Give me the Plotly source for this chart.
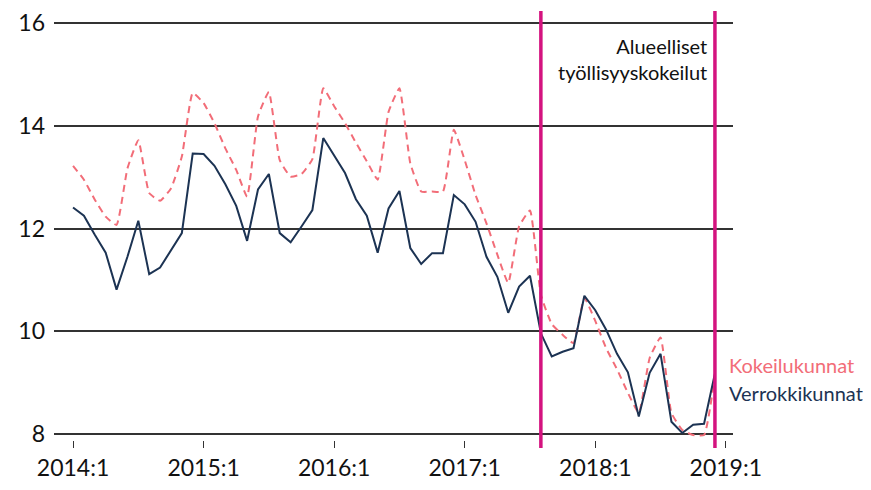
import plotly.graph_objects as go

# Monthly values 2014:1 ... 2018:12 (index 0..59)
months = list(range(60))
kokeilu = [13.22, 12.95, 12.56, 12.23, 12.07, 13.17, 13.72, 12.69, 12.54, 12.78, 13.40, 14.64,
           14.44, 14.05, 13.56, 13.14, 12.62, 14.18, 14.66, 13.33, 13.01, 13.06, 13.35, 14.73,
           14.38, 14.05, 13.67, 13.31, 12.95, 14.27, 14.73, 13.27, 12.72, 12.72, 12.72, 13.92,
           13.33, 12.65, 12.10, 11.49, 10.94, 12.04, 12.35, 10.71, 10.14, 9.93, 9.77, 10.65,
           10.20, 9.67, 9.26, 8.80, 8.41, 9.48, 9.88, 8.41, 8.08, 7.98, 7.98, 9.15]
verrokki = [12.41, 12.25, 11.88, 11.53, 10.81, 11.45, 12.15, 11.11, 11.24, 11.58, 11.91, 13.46,
            13.45, 13.22, 12.86, 12.44, 11.76, 12.76, 13.06, 11.91, 11.73, 12.04, 12.36, 13.76,
            13.42, 13.08, 12.57, 12.25, 11.53, 12.39, 12.73, 11.62, 11.31, 11.52, 11.52, 12.65,
            12.47, 12.13, 11.45, 11.06, 10.36, 10.87, 11.08, 9.96, 9.51, 9.60, 9.67, 10.69,
            10.41, 10.03, 9.56, 9.20, 8.34, 9.19, 9.56, 8.24, 8.02, 8.18, 8.20, 9.18]
tick_vals = [0, 12, 24, 36, 48, 60]
tick_text = ["2014:1", "2015:1", "2016:1", "2017:1", "2018:1", "2019:1"]
y_ticks = [8, 10, 12, 14, 16]
experiment_period = [43, 59]  # 2017:8 and 2018:12

RED = "#f26d78"
NAVY = "#1c3353"
MAGENTA = "#d4137f"
FONT = "Lato"

fig = go.Figure()
fig.add_trace(go.Scatter(x=months, y=kokeilu, mode="lines",
                         line=dict(color=RED, width=2, dash="7px,5px", shape="spline", smoothing=0.4),
                         showlegend=False, hoverinfo="skip"))
fig.add_trace(go.Scatter(x=months, y=verrokki, mode="lines",
                         line=dict(color=NAVY, width=2),
                         showlegend=False, hoverinfo="skip"))

for xv in experiment_period:
    fig.add_shape(type="line", xref="x", yref="paper", x0=xv, x1=xv, y0=0, y1=1,
                  line=dict(color=MAGENTA, width=3.5), layer="above")

fig.add_annotation(xref="x", yref="paper", x=experiment_period[1], y=0.952,
                   xanchor="right", yanchor="top", xshift=-6,
                   text="Alueelliset<br>työllisyyskokeilut", showarrow=False, align="right",
                   font=dict(family=FONT, size=20, color="#111111"))
fig.add_annotation(xref="paper", yref="y", x=1.0, y=kokeilu[-1], xanchor="left", yanchor="middle",
                   xshift=-6, yshift=10,
                   text="Kokeilukunnat", showarrow=False, font=dict(family=FONT, size=20, color=RED))
fig.add_annotation(xref="paper", yref="y", x=1.0, y=verrokki[-1], xanchor="left", yanchor="middle",
                   xshift=-6, yshift=-20,
                   text="Verrokkikunnat", showarrow=False, font=dict(family=FONT, size=20, color=NAVY))

# page body has an 8px default margin; figure is sized/margined to compensate
fig.update_layout(
    width=863, height=482,
    margin=dict(l=46, r=138, t=3, b=42, autoexpand=False),
    paper_bgcolor="white", plot_bgcolor="white",
    font=dict(family=FONT, size=23, color="#111111"),
    xaxis=dict(range=[-1.75, 60.66], tickvals=tick_vals, ticktext=tick_text,
               showgrid=False, zeroline=False, showline=False, automargin=False,
               ticks="inside", ticklen=7, tickwidth=1, tickcolor="#333333",
               ticklabelstandoff=4, tickfont=dict(size=23)),
    yaxis=dict(range=[7.7275, 16.2336], tickvals=y_ticks, showgrid=True, automargin=False,
               gridcolor="#333333", gridwidth=1.5, zeroline=False, showline=False,
               ticks="", ticklabelstandoff=8, tickfont=dict(size=23)),
)

fig.write_html("out.html")
